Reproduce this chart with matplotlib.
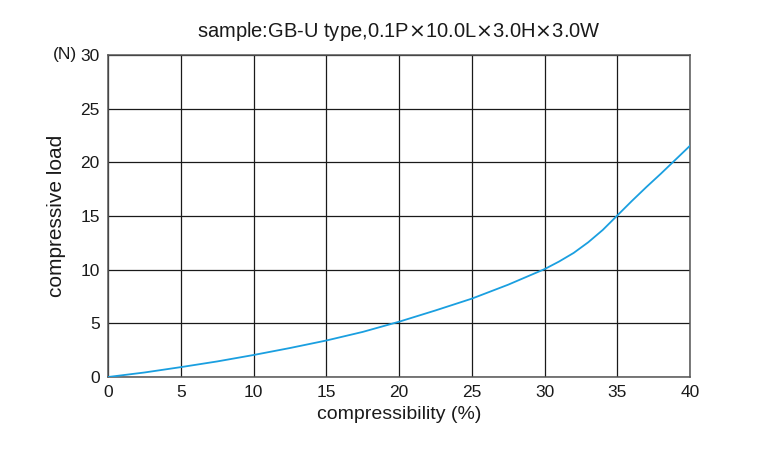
import matplotlib.pyplot as plt

plt.rcParams['font.family'] = ['Liberation Sans', 'DejaVu Sans']
plt.rcParams['mathtext.fontset'] = 'dejavusans'

# compressibility (%) vs compressive load (N)
compressibility = [0, 2.5, 5, 7.5, 10, 12.5, 15, 17.5, 20, 22.5, 25, 27.5,
                   30, 31, 32, 33, 34, 35, 36, 37, 38, 39, 40]
load = [0, 0.42, 0.92, 1.45, 2.05, 2.7, 3.4, 4.2, 5.15, 6.2, 7.3, 8.6,
        10.05, 10.76, 11.56, 12.55, 13.7, 15.05, 16.4, 17.7, 18.95, 20.25, 21.55]

x_ticks = [0, 5, 10, 15, 20, 25, 30, 35, 40]
y_ticks = [0, 5, 10, 15, 20, 25, 30]

title = r"sample:GB-U type,0.1P$\times$10.0L$\times$3.0H$\times$3.0W"

fig = plt.figure(figsize=(7.8, 4.5), dpi=100)
ax = fig.add_axes([0.1385, 0.1622, 0.7462, 0.7156])

ax.plot(compressibility, load, color="#1a9fe0", linewidth=1.3, zorder=3)

ax.set_xlim(0, 40)
ax.set_ylim(0, 30)
ax.set_xticks(x_ticks)
ax.set_yticks(y_ticks)
ax.grid(True, color="#1a1a1a", linewidth=0.9)
ax.tick_params(length=0, labelsize=12.5, pad=6, colors="#1a1a1a")
for s in ax.spines.values():
    s.set_color("#555555")
    s.set_linewidth(1.1)

ax.set_xlabel("compressibility (%)", fontsize=14, color="#1a1a1a", labelpad=4)
ax.set_ylabel("compressive load", fontsize=15, color="#1a1a1a", labelpad=10)
ax.set_title(title, fontsize=14.5, color="#1a1a1a", pad=13)
ax.text(-0.053, 1.0, "(N)", transform=ax.transAxes, fontsize=12.5,
        color="#1a1a1a", ha="right", va="center")

fig.savefig("out.png", dpi=100)
